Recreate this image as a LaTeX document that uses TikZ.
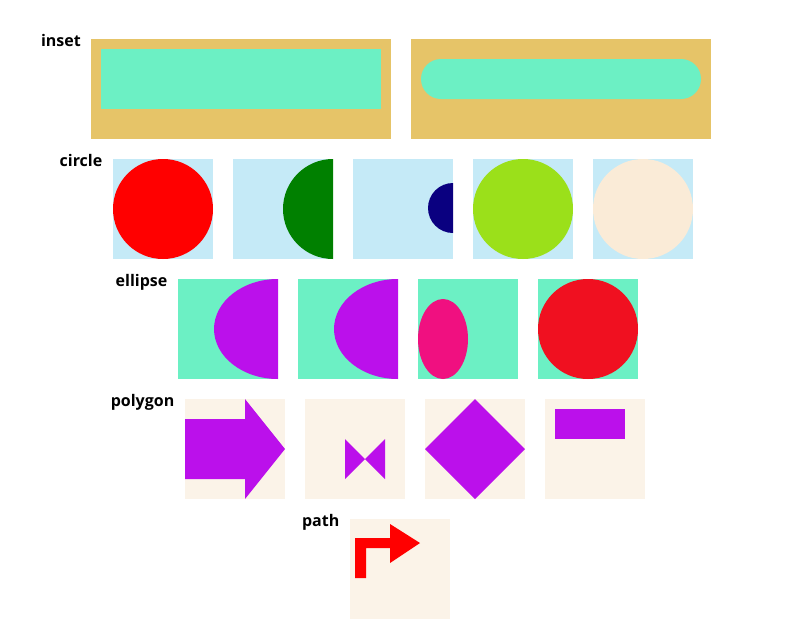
\documentclass[tikz,border=0pt]{standalone}
\usepackage{fontspec}
\setmainfont{Open Sans}
\usepackage{tikz}
\usetikzlibrary{positioning}
\definecolor{sand}{RGB}{230,196,104}
\definecolor{mint}{RGB}{108,240,196}
\definecolor{sky}{RGB}{197,234,247}
\definecolor{leaf}{RGB}{0,128,0}
\definecolor{ink}{RGB}{10,0,128}
\definecolor{lime}{RGB}{155,224,26}
\definecolor{cream}{RGB}{250,235,215}
\definecolor{orchid}{RGB}{187,16,235}
\definecolor{rose}{RGB}{240,16,128}
\definecolor{scarlet}{RGB}{240,16,32}
\definecolor{paper}{RGB}{251,243,232}
\definecolor{fire}{RGB}{255,0,0}
\tikzstyle{tile} = [rectangle, inner sep=0pt, outer sep=0pt, minimum width=100pt, minimum height=100pt]
\tikzstyle{wide} = [tile, minimum width=300pt, fill=sand]
\tikzstyle{caption} = [anchor=base east, inner sep=0pt, font=\fontsize{16}{19}\selectfont\bfseries]

\begin{document}
\begin{tikzpicture}[x=1pt, y=-1pt, node distance=20pt]
\useasboundingbox (0,0) rectangle (787,619);

% inset row
\node[wide, anchor=north west] (in1) at (91,39) {};
\node[wide, right=of in1] (in2) {};
\node[caption] (lblinset) at ([shift={(-10,7)}]in1.north west) {inset};
\fill[mint] ([shift={(10,10)}]in1.north west) rectangle ([shift={(-10,-30)}]in1.south east);
\fill[mint, rounded corners=20pt] ([shift={(10,20)}]in2.north west) rectangle ([shift={(-10,-40)}]in2.south east);

% circle row
\node[tile, fill=sky, anchor=north west] (c1) at (113,159) {};
\node[tile, fill=sky, right=of c1] (c2) {};
\node[tile, fill=sky, right=of c2] (c3) {};
\node[tile, fill=sky, right=of c3] (c4) {};
\node[tile, fill=sky, right=of c4] (c5) {};
\node[caption] (lblcircle) at ([shift={(-10.5,7)}]c1.north west) {circle};
\fill[fire] (c1.center) circle (50pt);
\begin{scope}
  \clip (c2.north west) rectangle (c2.south east);
  \fill[leaf] (c2.east) circle (50pt);
\end{scope}
\begin{scope}
  \clip (c3.north west) rectangle (c3.south east);
  \fill[ink] ([shift={(0,-1)}]c3.east) circle (25pt);
\end{scope}
\fill[lime] (c4.center) circle (50pt);
\fill[cream] (c5.center) circle (50pt);

% ellipse row
\node[tile, fill=mint, anchor=north west] (e1) at (178,279) {};
\node[tile, fill=mint, right=of e1] (e2) {};
\node[tile, fill=mint, right=of e2] (e3) {};
\node[tile, fill=mint, right=of e3] (e4) {};
\node[caption] (lblellipse) at ([shift={(-10.5,7)}]e1.north west) {ellipse};
\begin{scope}
  \clip (e1.north west) rectangle (e1.south east);
  \fill[orchid] (e1.east) ellipse (64pt and 50pt);
\end{scope}
\begin{scope}
  \clip (e2.north west) rectangle (e2.south east);
  \fill[orchid] (e2.east) ellipse (64pt and 50pt);
\end{scope}
\fill[rose] ([shift={(25,60)}]e3.north west) ellipse (25pt and 40pt);
\fill[scarlet] (e4.center) circle (50pt);

% polygon row
\node[tile, fill=paper, anchor=north west] (p1) at (185,399) {};
\node[tile, fill=paper, right=of p1] (p2) {};
\node[tile, fill=paper, right=of p2] (p3) {};
\node[tile, fill=paper, right=of p3] (p4) {};
\node[caption] (lblpolygon) at ([shift={(-10.5,7)}]p1.north west) {polygon};
\begin{scope}[shift={(p1.north west)}]
  \fill[orchid] (0,20) -- (60,20) -- (60,0) -- (100,50) -- (60,100) -- (60,80) -- (0,80) -- cycle;
\end{scope}
\begin{scope}[shift={(p2.north west)}]
  \fill[orchid] (40,40) -- (80,80) -- (80,40) -- (40,80) -- cycle;
\end{scope}
\begin{scope}[shift={(p3.north west)}]
  \fill[orchid] (50,0) -- (100,50) -- (50,100) -- (0,50) -- cycle;
\end{scope}
\begin{scope}[shift={(p4.north west)}]
  \fill[orchid] (10,10) rectangle (80,40);
\end{scope}

% path row
\node[tile, fill=paper, anchor=north west] (pa) at (350,519) {};
\node[caption] (lblpath) at ([shift={(-10.5,7)}]pa.north west) {path};
\begin{scope}[shift={(pa.north west)}]
  \fill[fire] (5,59) -- (5,19) -- (40,19) -- (40,5) -- (70,24) -- (40,44) -- (40,29) -- (16,29) -- (16,59) -- cycle;
\end{scope}

\end{tikzpicture}
\end{document}
